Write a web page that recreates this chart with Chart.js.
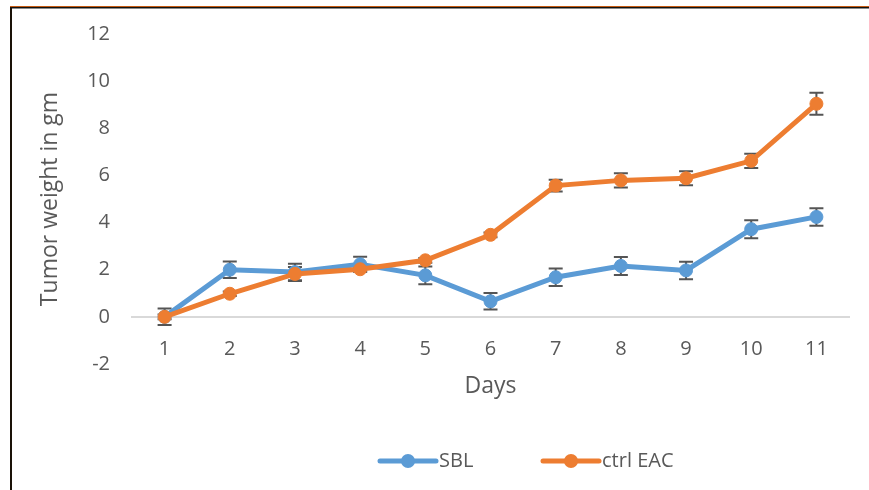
<!DOCTYPE html>
<html>
<head>
<meta charset="utf-8">
<script src="https://cdn.jsdelivr.net/npm/chart.js@4"></script>
<style>
  body { margin: 0; background: #fff; }
  #wrap { position: relative; width: 869px; height: 490px; overflow: hidden; }
  #chart_1 { position: absolute; left: 0; top: 0; }
  .frame { position: absolute; }
</style>
</head>
<body>
<div id="wrap">
  <canvas id="chart_1" width="869" height="490"></canvas>
  <div class="frame" style="left:10px;top:6px;width:859px;height:1px;background:#c55a11"></div>
  <div class="frame" style="left:10px;top:7px;width:859px;height:1px;background:#111"></div>
  <div class="frame" style="left:12px;top:8px;width:857px;height:1px;background:#8a8a8a"></div>
  <div class="frame" style="left:10px;top:7px;width:2px;height:483px;background:#1a1208"></div>
</div>
<script>
const days = ["1", "2", "3", "4", "5", "6", "7", "8", "9", "10", "11"];
const sbl = [0, 2.0, 1.9, 2.23, 1.76, 0.66, 1.68, 2.16, 1.97, 3.72, 4.24];
const sblErr = [0.35, 0.35, 0.35, 0.32, 0.38, 0.35, 0.37, 0.38, 0.37, 0.38, 0.37];
const ctrlEac = [0, 0.98, 1.82, 2.02, 2.4, 3.48, 5.57, 5.79, 5.88, 6.62, 9.04];
const ctrlEacErr = [0.1, 0.1, 0.3, 0.1, 0.1, 0.1, 0.25, 0.3, 0.3, 0.3, 0.47];
const yTicks = [-2, 0, 2, 4, 6, 8, 10, 12];

const chart_1 = document.getElementById("chart_1").getContext("2d");

Chart.defaults.font.family = "'Open Sans', sans-serif";
Chart.defaults.color = "#595959";

// error bars, drawn under the markers
const errorBars = {
    id: "errorBars",
    beforeDatasetsDraw(chart) {
        const ctx = chart.ctx;
        const y = chart.scales.y;
        ctx.save();
        ctx.strokeStyle = "#555555";
        ctx.lineWidth = 2;
        chart.data.datasets.forEach((ds, i) => {
            chart.getDatasetMeta(i).data.forEach((pt, j) => {
                const hi = y.getPixelForValue(ds.data[j] + ds.errors[j]);
                const lo = y.getPixelForValue(ds.data[j] - ds.errors[j]);
                ctx.beginPath();
                ctx.moveTo(pt.x, hi); ctx.lineTo(pt.x, lo);
                ctx.moveTo(pt.x - 7, hi); ctx.lineTo(pt.x + 7, hi);
                ctx.moveTo(pt.x - 7, lo); ctx.lineTo(pt.x + 7, lo);
                ctx.stroke();
            });
        });
        ctx.restore();
    }
};

// excel style legend: line with a marker, then the name
const lineLegend = {
    id: "lineLegend",
    afterDraw(chart, args, opts) {
        const ctx = chart.ctx;
        ctx.save();
        ctx.font = "20px 'Open Sans'";
        ctx.textBaseline = "middle";
        chart.data.datasets.forEach((ds, i) => {
            const x0 = opts.x[i];
            ctx.strokeStyle = ds.borderColor;
            ctx.fillStyle = ds.borderColor;
            ctx.lineWidth = 5;
            ctx.lineCap = "round";
            ctx.beginPath();
            ctx.moveTo(x0, opts.y); ctx.lineTo(x0 + 56, opts.y);
            ctx.stroke();
            ctx.beginPath();
            ctx.arc(x0 + 28, opts.y, 7, 0, Math.PI * 2);
            ctx.fill();
            ctx.fillStyle = "#595959";
            ctx.fillText(ds.label, x0 + 59, opts.y);
        });
        ctx.restore();
    }
};

new Chart(chart_1, {
    type: "line",
    data: {
        labels: days,
        datasets: [
            {
                label: "SBL",
                data: sbl,
                errors: sblErr,
                borderColor: "#5B9BD5",
                backgroundColor: "#5B9BD5",
                borderWidth: 5,
                pointRadius: 6.5,
                pointBorderWidth: 1,
                tension: 0,
                order: 2,
            },
            {
                label: "ctrl EAC",
                data: ctrlEac,
                errors: ctrlEacErr,
                borderColor: "#ED7D31",
                backgroundColor: "#ED7D31",
                borderWidth: 5,
                pointRadius: 6.5,
                pointBorderWidth: 1,
                tension: 0,
                order: 1,
            },
        ],
    },
    options: {
        responsive: false,
        animation: false,
        layout: { padding: { left: 37, right: 20, top: 23, bottom: 126 } },
        scales: {
            x: {
                type: "category",
                offset: true,
                position: { y: 0 },
                grid: { display: false, drawTicks: false },
                border: { display: true, color: "#d9d9d9", width: 2 },
                ticks: { font: { size: 20 }, padding: 20, maxRotation: 0 },
                title: { display: true, text: "Days", font: { size: 23, lineHeight: 0.5 }, padding: { top: 0, bottom: 0 } },
            },
            y: {
                min: -2,
                max: 12,
                afterBuildTicks: (scale) => { scale.ticks = yTicks.map(v => ({ value: v })); },
                afterFit: (scale) => { scale.width = 95; },
                grid: { display: false, drawTicks: false },
                border: { display: false },
                ticks: { font: { size: 20 }, padding: 22 },
                title: { display: true, text: "Tumor weight in gm", font: { size: 23 }, padding: 0 },
            },
        },
        plugins: {
            legend: { display: false },
            tooltip: { enabled: false },
            lineLegend: { x: [380, 543], y: 461 },
        },
    },
    plugins: [errorBars, lineLegend],
});
</script>
</body>
</html>
